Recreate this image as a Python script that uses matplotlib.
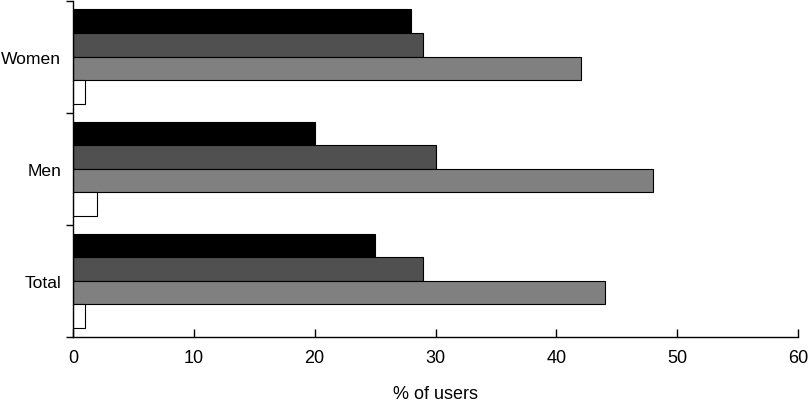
import matplotlib.pyplot as plt
import numpy as np

plt.rcParams['font.family'] = ['Liberation Sans', 'DejaVu Sans']

groups = ['Total', 'Men', 'Women']
# series ordered from top bar to bottom bar in each group
black_vals = [25, 20, 28]
dark_vals = [29, 30, 29]
gray_vals = [44, 48, 42]
white_vals = [1, 2, 1]
colors = ['#000000', '#505050', '#808080', '#ffffff']

fig = plt.figure(figsize=(8.12, 4.06), dpi=100)
ax = fig.add_axes([0.0899, 0.1675, 0.8929, 0.8288])

h = 0.21
y = np.arange(len(groups)) + 0.5
series = [black_vals, dark_vals, gray_vals, white_vals]
for i, vals in enumerate(series):
    offs = 0.315 - i * h
    ax.barh(y + offs, vals, height=h, color=colors[i],
            edgecolor='black', linewidth=0.8)

ax.set_xlim(0, 60)
ax.set_ylim(0, 3)
ax.set_xticks(np.arange(0, 61, 10))
ax.set_yticks(y)
ax.set_yticklabels(groups)
ax.set_yticks(np.arange(0, 4), minor=True)

for s in ['top', 'right']:
    ax.spines[s].set_visible(False)
for s in ['left', 'bottom']:
    ax.spines[s].set_linewidth(1.0)

ax.tick_params(axis='x', direction='in', length=6, width=1, pad=9, labelsize=13)
ax.tick_params(axis='y', which='major', length=0, pad=8.5, labelsize=12.6)
ax.tick_params(axis='y', which='minor', direction='out', length=5, width=1)
ax.set_xlabel('% of users', fontsize=13, labelpad=13)

fig.savefig('out.png', dpi=100)
